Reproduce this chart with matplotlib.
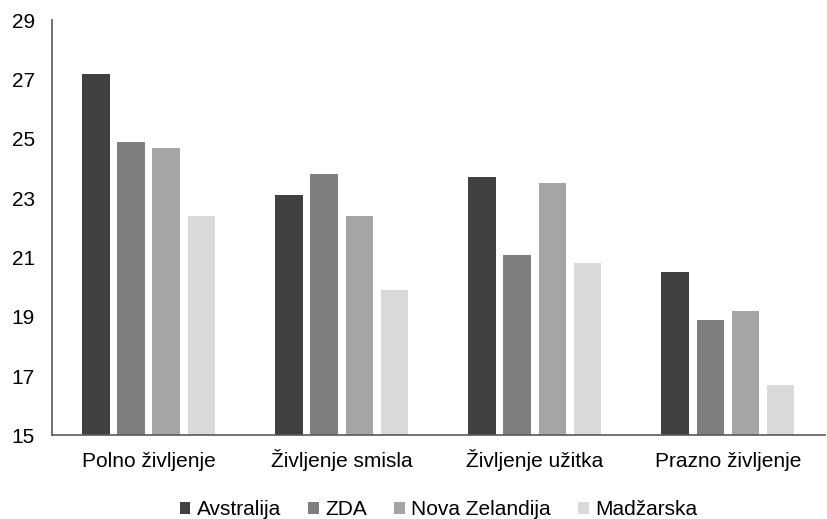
import numpy as np
import matplotlib.pyplot as plt

plt.rcParams['font.family'] = ['Liberation Sans', 'DejaVu Sans']

categories = ['Polno življenje', 'Življenje smisla', 'Življenje užitka', 'Prazno življenje']
series = ['Avstralija', 'ZDA', 'Nova Zelandija', 'Madžarska']
avstralija = [27.2, 23.1, 23.7, 20.5]
zda = [24.9, 23.8, 21.1, 18.9]
nova_zelandija = [24.7, 22.4, 23.5, 19.2]
madzarska = [22.4, 19.9, 20.8, 16.7]
colors = ['#404040', '#7f7f7f', '#a5a5a5', '#d9d9d9']

values = [avstralija, zda, nova_zelandija, madzarska]

fig = plt.figure(figsize=(8.27, 5.19), dpi=100)
ax = fig.add_axes([0.063, 0.161, 0.934, 0.8])

x = np.arange(len(categories))
pitch = 0.182
width = 0.143
for i, (name, vals) in enumerate(zip(series, values)):
    offset = (i - 1.5) * pitch
    ax.bar(x + offset, vals, width, color=colors[i], label=name, zorder=2)

ax.set_ylim(15, 29)
ax.set_yticks(range(15, 30, 2))
ax.set_xlim(-0.5, len(categories) - 0.5)
ax.set_xticks(x)
ax.set_xticklabels(categories)
ax.tick_params(axis='both', length=0, labelsize=15, colors='black')
ax.tick_params(axis='y', pad=12.5)
# baseline-aligned category labels so the carons don't push text down
ax.tick_params(axis='x', pad=22.8)
for lbl in ax.get_xticklabels():
    lbl.set_verticalalignment('baseline')

for side in ['top', 'right']:
    ax.spines[side].set_visible(False)
for side in ['left', 'bottom']:
    ax.spines[side].set_color('#595959')
    ax.spines[side].set_linewidth(1.2)

pos = ax.get_position()
fig.legend(loc='lower center', bbox_to_anchor=((pos.x0 + pos.x1) / 2, 0.0), ncol=4,
           frameon=False, fontsize=15, borderpad=0, borderaxespad=0,
           handlelength=0.52, handleheight=0.52, handletextpad=0.3,
           columnspacing=1.3)

fig.savefig('out.png', dpi=100)
